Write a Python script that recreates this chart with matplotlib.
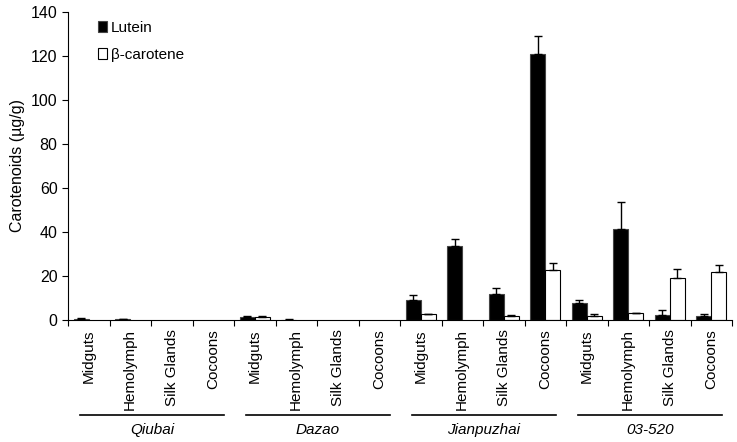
import matplotlib
matplotlib.use("Agg")
import matplotlib.pyplot as plt
import matplotlib.transforms as mtransforms
import numpy as np

plt.rcParams['font.family'] = ['Liberation Sans', 'DejaVu Sans']

groups = ["Qiubai", "Dazao", "Jianpuzhai", "03-520"]
tissues = ["Midguts", "Hemolymph", "Silk Glands", "Cocoons"]

lutein = [0.5, 0.4, 0.0, 0.0,
          1.2, 0.2, 0.0, 0.0,
          9.1, 33.6, 11.7, 121.0,
          7.6, 41.5, 2.1, 1.7]
lutein_err = [0.2, 0.2, 0.0, 0.0,
              0.4, 0.1, 0.0, 0.0,
              2.3, 3.4, 2.7, 8.0,
              1.4, 12.0, 2.3, 0.9]
beta = [0.0, 0.0, 0.0, 0.0,
        1.5, 0.0, 0.0, 0.0,
        2.6, 0.0, 1.7, 22.7,
        2.0, 3.0, 18.9, 21.7]
beta_err = [0.0, 0.0, 0.0, 0.0,
            0.2, 0.0, 0.0, 0.0,
            0.2, 0.0, 0.8, 3.1,
            0.7, 0.2, 4.4, 3.5]

n = len(lutein)
x = np.arange(n) + 0.5
w = 0.36

fig = plt.figure(figsize=(7.37, 4.42), dpi=100)
ax = fig.add_axes([68/737, 1-320/442, (732-68)/737, (320-12)/442])

lutein_a = np.array(lutein)
beta_a = np.array(beta)
lm = lutein_a > 0
bm = beta_a > 0
ax.bar(x[lm] - w/2, lutein_a[lm], w, color='black', edgecolor='#444444', linewidth=0.8,
       yerr=[np.zeros(lm.sum()), np.array(lutein_err)[lm]],
       error_kw=dict(ecolor='black', elinewidth=1, capsize=3, capthick=1),
       label='Lutein')
ax.bar(x[bm] + w/2, beta_a[bm], w, color='white', edgecolor='black', linewidth=0.8,
       yerr=[np.zeros(bm.sum()), np.array(beta_err)[bm]],
       error_kw=dict(ecolor='black', elinewidth=1, capsize=3, capthick=1),
       label='β-carotene')

ax.set_xlim(0, n)
ax.set_ylim(0, 140)
ax.set_yticks(np.arange(0, 141, 20))
ax.tick_params(axis='y', labelsize=11.5, direction='out', length=4)
ax.set_xticks(np.arange(0, n + 1))
ax.set_xticklabels([])
ax.tick_params(axis='x', direction='out', length=4)
ax.spines['top'].set_visible(False)
ax.spines['right'].set_visible(False)
ax.set_ylabel('Carotenoids (µg/g)', fontsize=11.5)

trans = mtransforms.blended_transform_factory(ax.transData, ax.transAxes)
labels = tissues * len(groups)
for xi, lab in zip(x, labels):
    ax.text(xi, -0.03, lab, rotation=90, ha='center', va='top', fontsize=11, transform=trans)

for gi, g in enumerate(groups):
    start = gi * 4
    end = start + 4
    ax.plot([start + 0.3, end - 0.25], [-0.308, -0.308], color='black', lw=1.2,
            transform=trans, clip_on=False)
    ax.text((start + end) / 2 + 0.02, -0.357, g, ha='center', va='center', fontsize=11,
            style='italic', transform=trans)

ax.legend(loc='upper left', bbox_to_anchor=(0.025, 1.015), frameon=False, fontsize=11,
          handlelength=0.55, handleheight=0.7, handletextpad=0.25, labelspacing=0.85)

fig.savefig('out.png', dpi=100)
